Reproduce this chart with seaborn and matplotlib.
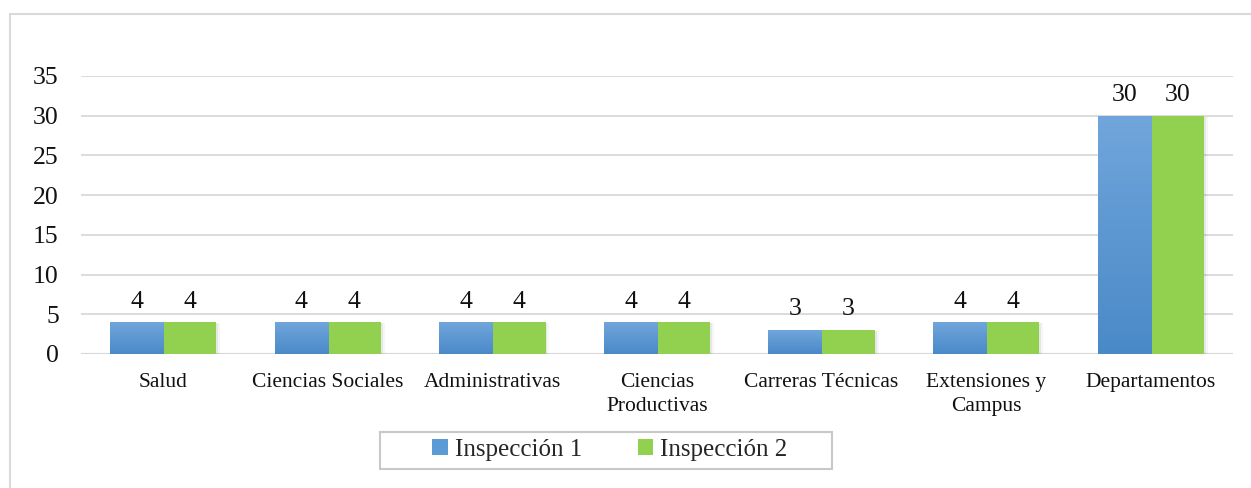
import numpy as np
import pandas as pd
import matplotlib
matplotlib.use("Agg")
import matplotlib.pyplot as plt
from matplotlib.lines import Line2D
from matplotlib.patches import Patch, Rectangle
import seaborn as sns

categories = ["Salud", "Ciencias Sociales", "Administrativas", "Ciencias\nProductivas",
              "Carreras Técnicas", "Extensiones y\nCampus", "Departamentos"]
inspeccion_1 = [4, 4, 4, 4, 3, 4, 30]
inspeccion_2 = [4, 4, 4, 4, 3, 4, 30]
series_names = ["Inspección 1", "Inspección 2"]
y_ticks = [0, 5, 10, 15, 20, 25, 30, 35]

df = pd.DataFrame({
    "Categoria": categories * 2,
    "Valor": inspeccion_1 + inspeccion_2,
    "Serie": [series_names[0]] * len(categories) + [series_names[1]] * len(categories),
})

sns.set_theme(style="white")
plt.rcParams["font.family"] = ["Liberation Serif", "DejaVu Serif"]

W, H, DPI = 1251, 488, 100
fig = plt.figure(figsize=(W / DPI, H / DPI), dpi=DPI)
ax = fig.add_axes([81 / W, 1 - 354 / H, (1233 - 81) / W, (354 - 76) / H])

blue = "#5b9bd5"
green = "#92d050"
sns.barplot(data=df, x="Categoria", y="Valor", hue="Serie", order=categories,
            hue_order=series_names, palette=[blue, green], width=0.645,
            dodge=True, gap=0, ax=ax, legend=False, saturation=1, edgecolor="none")

ax.set_ylim(0, 35)
ax.set_yticks(y_ticks)
ax.yaxis.grid(True, color="#d9d9d9", linewidth=1.3, zorder=0)
ax.set_axisbelow(True)
for s in ax.spines.values():
    s.set_visible(False)
ax.axhline(0, color="#d0d0d0", linewidth=1.5, zorder=0.5)
ax.set_xlabel("")
ax.set_ylabel("")
ax.tick_params(axis="y", labelsize=18.5, length=0, pad=16, colors="#111111")
ax.tick_params(axis="x", labelsize=15.5, length=0, pad=14, colors="#111111")
for lbl in ax.get_xticklabels():
    lbl.set_linespacing(1.3)

# vertical gradient on blue bars, soft shadow under every bar
grad = np.linspace(0, 1, 256).reshape(-1, 1)
cmap_blue = matplotlib.colors.LinearSegmentedColormap.from_list("b", ["#4a89c8", "#70a6db"])
for i, container in enumerate(ax.containers):
    for bar in container:
        bar.set_zorder(2)
        x0, y0 = bar.get_x(), bar.get_y()
        w, h = bar.get_width(), bar.get_height()
        for k, a in ((0.012, 0.06), (0.024, 0.035)):
            ax.add_patch(Rectangle((x0 + k, y0 - 0.12), w, h, facecolor="#000000",
                                   alpha=a, edgecolor="none", zorder=1.5))
        if i == 0:
            im = ax.imshow(grad, extent=[x0, x0 + w, y0, y0 + h], origin="lower",
                           cmap=cmap_blue, aspect="auto", zorder=2.5)
            im.set_clip_path(bar)
    ax.bar_label(container, padding=7, fontsize=18.5, color="#111111")
ax.set_xlim(-0.5, len(categories) - 0.5)
ax.set_ylim(0, 35)

# legend: entries without frame, box drawn separately
handles = [Patch(facecolor=blue, edgecolor="none"), Patch(facecolor=green, edgecolor="none")]
leg = fig.legend(handles, series_names, loc="center", bbox_to_anchor=(610 / W, 1 - 450 / H),
                 ncol=2, fontsize=18, frameon=False, handlelength=0.62,
                 handleheight=0.62, handletextpad=0.3, columnspacing=2.2,
                 borderpad=0, borderaxespad=0)
fig.add_artist(Rectangle((380 / W, 1 - 469 / H), (832 - 380) / W, (469 - 432) / H,
                         transform=fig.transFigure, facecolor="none",
                         edgecolor="#c8c8c8", linewidth=1.5))

# chart area outline (left and top edges)
fig.add_artist(Line2D([9.5 / W, 9.5 / W], [0, 1 - 14 / H], transform=fig.transFigure,
                      color="#d9d9d9", linewidth=1.5))
fig.add_artist(Line2D([9.5 / W, 1], [1 - 14 / H, 1 - 14 / H], transform=fig.transFigure,
                      color="#d9d9d9", linewidth=1.5))

fig.savefig("out.png", dpi=DPI)
